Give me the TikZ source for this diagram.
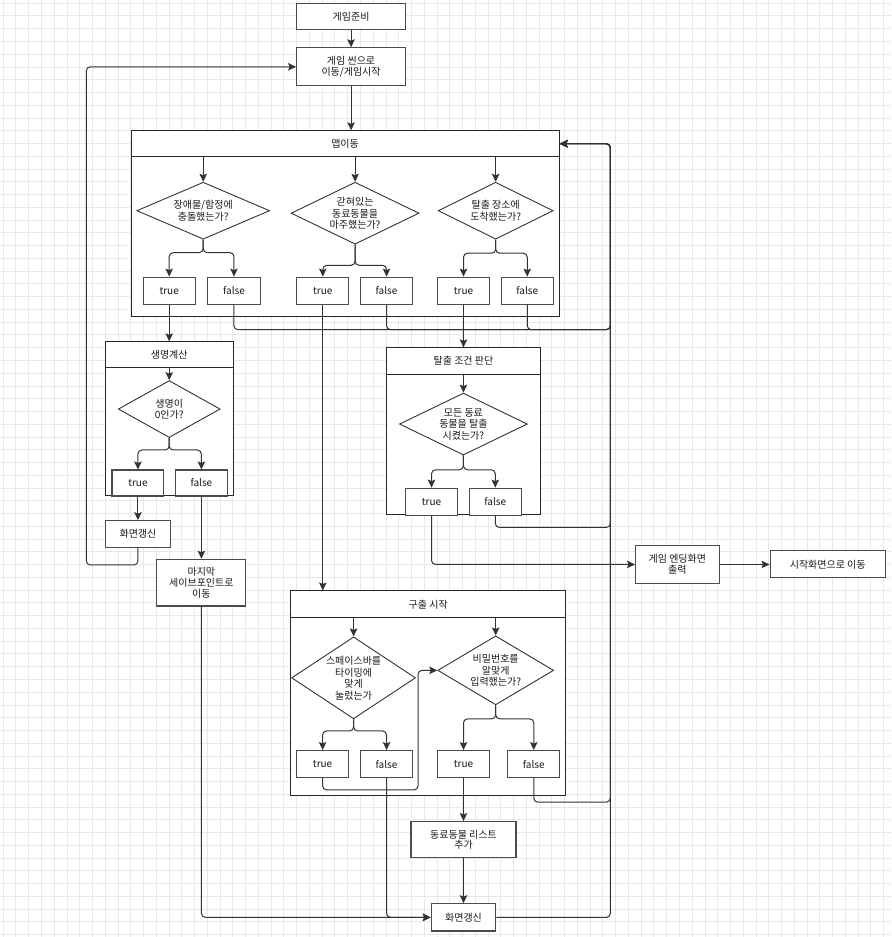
\documentclass[tikz,border=0pt]{standalone}
\usepackage{fontspec}
\setmainfont{Noto Sans CJK KR}
\usetikzlibrary{arrows.meta,shapes.geometric,positioning}

\newcommand{\asktext}[1]{\smash{\makebox[0pt]{\raisebox{-4pt}{\begin{tabular}{@{}c@{}}#1\end{tabular}}}}}

\begin{document}
\begin{tikzpicture}[x=1pt,y=-1pt,>={Stealth[length=8pt,width=7.5pt,inset=1.5pt]},
  font=\fontsize{10}{10.8}\selectfont,
  gridline/.style={draw=black!9,line width=0.7pt},
  box/.style={rectangle,draw=black!70,fill=white,line width=1.1pt,
    inner sep=1pt,align=center,text=black!90},
  tf/.style={box,minimum width=52pt,minimum height=27pt},
  frame/.style={rectangle,draw=black!85,fill=white,line width=0.9pt,text=black!90},
  ask/.style={diamond,draw=black!80,fill=white,line width=0.9pt,
    inner sep=0pt,text=black!90},
  flow/.style={->,black!80,line width=1pt,rounded corners=4pt}]

  \fill[white] (0,0) rectangle (891,937);
  \begin{scope}[xshift=2.7pt,yshift=-2.7pt]
    \draw[gridline] (-2.7pt,-934.3pt) grid[step=12.77pt] (888.3pt,2.7pt);
  \end{scope}
  \useasboundingbox (0,0) rectangle (891,937);

  \node[box,minimum width=109pt,minimum height=26.5pt] (prep) at (351,16) {게임준비};
  \node[box,minimum width=109pt,minimum height=38pt] (scene) [node distance=50.5pt,below of=prep] {게임 씬으로\\이동/게임시작};

  % map move
  \node[frame,minimum width=428.6pt,minimum height=26pt] (maph) at (345,143.5) {맵이동};
  \node[frame,minimum width=428.6pt,minimum height=159.5pt] (mapb) [node distance=92.75pt,below of=maph] {};
  \node[ask,minimum width=133pt,minimum height=57pt] (D1) at (203,210.5) {\asktext{장애물/함정에\\충돌했는가?}};
  \node[ask,minimum width=128pt,minimum height=62pt] (D2) at (355,213) {\asktext{갇혀있는\\동료동물을\\마주했는가?}};
  \node[ask,minimum width=115pt,minimum height=57pt] (D3) at (495.7,210.5) {\asktext{탈출 장소에\\도착했는가?}};
  \node[tf] (D1t) at (169,290.5) {true};
  \node[tf,minimum width=53pt] (D1f) [node distance=64.8pt,right of=D1t] {false};
  \node[tf] (D2t) at (322.7,290.5) {true};
  \node[tf] (D2f) [node distance=63.8pt,right of=D2t] {false};
  \node[tf] (D3t) at (463.5,290.5) {true};
  \node[tf] (D3f) [node distance=63.8pt,right of=D3t] {false};

  % life
  \node[frame,minimum width=128.6pt,minimum height=26pt] (lifeh) at (169,354.7) {생명계산};
  \node[frame,minimum width=128.6pt,minimum height=127.6pt] (lifeb) [node distance=76.8pt,below of=lifeh] {};
  \node[ask,minimum width=102pt,minimum height=57pt] (LD) at (169,409) {\asktext{생명이\\0인가?}};
  \node[tf,minimum height=26pt] (LT) at (137.7,483) {true};
  \node[tf,minimum height=26pt] (LF) [node distance=63.5pt,right of=LT] {false};
  \node[box,minimum width=64.3pt,minimum height=26.6pt] (ref1) [node distance=51pt,below of=LT] {화면갱신};
  \node[box,minimum width=89pt,minimum height=46.7pt] (last) [node distance=99.7pt,below of=LF] {마지막\\세이브포인트로\\이동};

  % escape
  \node[frame,minimum width=153.6pt,minimum height=26.6pt] (esch) at (463.5,361) {탈출 조건 판단};
  \node[frame,minimum width=153.6pt,minimum height=139.7pt] (escb) [node distance=83.15pt,below of=esch] {};
  \node[ask,minimum width=128pt,minimum height=62pt] (ED) at (463.4,424) {\asktext{모든 동료\\동물을 탈출\\시켰는가?}};
  \node[tf] (ET) at (431.5,501.7) {true};
  \node[tf] (EF) [node distance=63.8pt,right of=ET] {false};
  \node[box,minimum width=83.6pt,minimum height=38.6pt] (ending) at (677.5,564.5) {게임 엔딩화면\\출력};
  \node[box,minimum width=115.4pt,minimum height=27pt] (start) [node distance=150.5pt,right of=ending] {시작화면으로 이동};

  % rescue
  \node[frame,minimum width=275pt,minimum height=26.7pt] (resh) at (428.2,604.35) {구출 시작};
  \node[frame,minimum width=275pt,minimum height=178.3pt] (resb) [node distance=102.5pt,below of=resh] {};
  \node[ask,minimum width=124pt,minimum height=82pt] (RD1) at (353.5,678) {\asktext{스페이스바를\\타이밍에\\맞게\\눌렀는가}};
  \node[ask,minimum width=116pt,minimum height=69pt] (RD2) at (495.7,670.5) {\asktext{비밀번호를\\알맞게\\입력했는가?}};
  \node[tf] (RT1) at (322.5,764.3) {true};
  \node[tf] (RF1) [node distance=64pt,right of=RT1] {false};
  \node[tf] (RT2) at (463.5,764.3) {true};
  \node[tf] (RF2) [node distance=70.3pt,right of=RT2] {false};
  \node[box,minimum width=105pt,minimum height=36.3pt] (add) [node distance=75.7pt,below of=RT2] {동료동물 리스트\\추가};
  \node[box,minimum width=64.6pt,minimum height=27.3pt] (ref2) [node distance=77.7pt,below of=add] {화면갱신};

  \coordinate (bus) at (610.5,143.5);
  \coordinate (loop) at (86,565);

  \path[flow]
    (prep) edge (scene)
    (scene.south) edge (scene.south |- maph.north)
    (D1.north |- maph.south) edge (D1.north)
    (D2.north |- maph.south) edge (D2.north)
    (D3.north |- maph.south) edge (D3.north)
    (D1t) edge (lifeh)
    (D2t.south) edge (D2t.south |- resh.north)
    (D3t) edge (esch)
    (LD.north |- lifeh.south) edge (LD.north)
    (LT) edge (ref1)
    (LF) edge (last)
    (ED.north |- esch.south) edge (ED.north)
    (ending) edge (start)
    (RD1.north |- resh.south) edge (RD1.north)
    (RD2.north |- resh.south) edge (RD2.north)
    (RT2) edge (add)
    (add) edge (ref2);

  \draw[flow] (D1.south) -- ++(0,13) -| (D1t.north);
  \draw[flow] (D1.south) -- ++(0,13) -| (D1f.north);
  \draw[flow] (D2.south) -- ++(0,20.7) -| (D2t.north);
  \draw[flow] (D2.south) -- ++(0,20.7) -| (D2f.north);
  \draw[flow] (D3.south) -- ++(0,13.6) -| (D3t.north);
  \draw[flow] (D3.south) -- ++(0,13.6) -| (D3f.north);
  \draw[flow] (LD.south) -- ++(0,12) -| (LT.north);
  \draw[flow] (LD.south) -- ++(0,12) -| (LF.north);
  \draw[flow] (ED.south) -- ++(0,14.3) -| (ET.north);
  \draw[flow] (ED.south) -- ++(0,14.3) -| (EF.north);
  \draw[flow] (RD1.south) -- ++(0,11.7) -| (RT1.north);
  \draw[flow] (RD1.south) -- ++(0,11.7) -| (RF1.north);
  \draw[flow] (RD2.south) -- ++(0,13.6) -| (RT2.north);
  \draw[flow] (RD2.south) -- ++(0,13.6) -| (RF2.north);

  \draw[flow] (D1f.south) -- ++(0,25) -| (bus) -- (maph.east);
  \draw[flow] (D2f.south) -- ++(0,25) -| (bus) -- (maph.east);
  \draw[flow] (D3f.south) -- ++(0,25) -| (bus) -- (maph.east);
  \draw[flow] (EF.south) -- ++(0,11.7) -| (bus) -- (maph.east);
  \draw[flow] (RF2.south) -- ++(0,24) -| (bus) -- (maph.east);
  \draw[flow] (ref2.east) -| (bus) -- (maph.east);
  \draw[flow] (ref1.south) |- (loop) |- (scene.west);
  \draw[flow] (last.south) |- (ref2.west);
  \draw[flow] (RF1.south) |- (ref2.west);
  \draw[flow] (ET.south) |- (ending.west);
  \draw[flow] (RT1.south) -- ++(0,11.8) -- ++(95.5,0) |- (RD2.west);
\end{tikzpicture}
\end{document}
